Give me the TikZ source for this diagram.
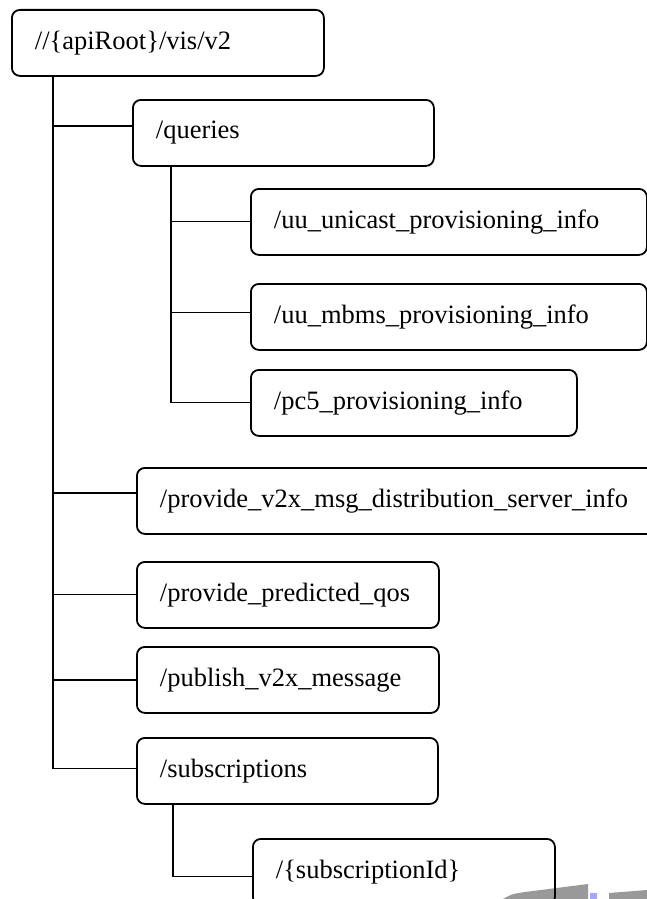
\documentclass[tikz,border=0pt]{standalone}
\usepackage{fontspec}
\setmainfont{Liberation Serif}
\begin{document}
\begin{tikzpicture}[x=1pt,y=-1pt,
 box/.style={draw, line width=1.8pt, rounded corners=8pt, anchor=north west, minimum height=66pt, inner xsep=23pt, inner ysep=0pt, align=left, font=\fontsize{26.5}{30}\selectfont},
 thinline/.style={line width=1.1pt},
 thickline/.style={line width=1.6pt}]
\useasboundingbox (0,0) rectangle (647,899);
% scan artefact at the bottom
\fill[black!40] (503,899) .. controls (512,894) .. (525,892) -- (588,884) -- (588,899) -- cycle;
\fill[blue!35] (590,893) rectangle (597,899);
\fill[black!40] (609,893) -- (647,890) -- (647,899) -- (609,899) -- cycle;
% boxes
\node[box, text width=266pt] (root) at (11,9) {//\{apiRoot\}/vis/v2};
\node[box, text width=255pt] (queries) at (132,99) {/queries};
\node[box, text width=350pt] (unicast) at (250,188) {/uu\_unicast\_provisioning\_info};
\node[box, text width=350pt] (mbms) at (250,283) {/uu\_mbms\_provisioning\_info};
\node[box, text width=280pt] (pc5) at (250,369) {/pc5\_provisioning\_info};
\node[box, text width=478pt] (v2x) at (136,467) {/provide\_v2x\_msg\_distribution\_server\_info};
\node[box, text width=256pt] (qos) at (136,561) {/provide\_predicted\_qos};
\node[box, text width=256pt] (publish) at (136,646) {/publish\_v2x\_message};
\node[box, text width=255pt] (subs) at (136,737) {/subscriptions};
\node[box, text width=256pt] (subid) at (252,838) {/\{subscriptionId\}};
% connector anchors
\coordinate (t0) at ([xshift=42pt]root.south west);
\coordinate (q0) at ([xshift=39pt]queries.south west);
\coordinate (s0) at ([xshift=37pt]subs.south west);
\coordinate (qj) at ([yshift=7pt]queries.west);
\coordinate (mj) at ([yshift=4pt]mbms.west);
\coordinate (vj) at ([yshift=8pt]v2x.west);
\coordinate (sj) at ([yshift=2pt]subs.west);
\coordinate (ij) at ([yshift=-5pt]subid.west);
% trunk from root
\draw[thinline] (t0) |- (sj);
\draw[thickline] (qj) -- (qj -| t0);
\draw[thickline] (vj) -- (vj -| t0);
\draw[thinline] (qos.west) -- (qos.west -| t0);
\draw[thickline] (publish.west) -- (publish.west -| t0);
% queries children
\draw[thinline] (q0) |- (pc5.west);
\draw[thinline] (unicast.west) -- (unicast.west -| q0);
\draw[thinline] (mj) -- (mj -| q0);
% subscriptions child
\draw[thinline] (s0) |- (ij);
\end{tikzpicture}
\end{document}
